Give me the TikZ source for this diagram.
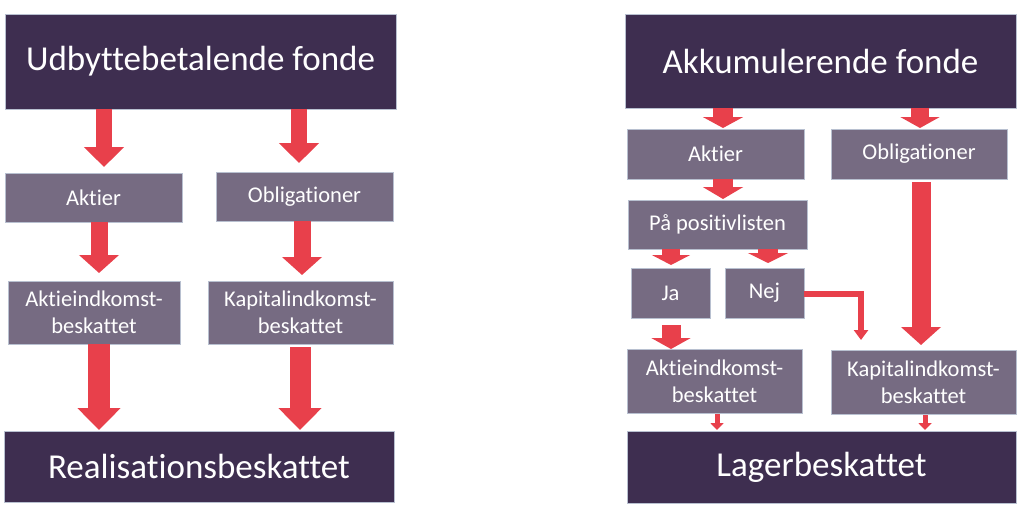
\documentclass[tikz,border=0pt]{standalone}
\usepackage{fontspec}
\setmainfont{Carlito}[Ligatures={NoCommon}]
\usetikzlibrary{arrows.meta,calc}
\definecolor{darkbox}{HTML}{3E2E50}
\definecolor{midbox}{HTML}{766B82}
\definecolor{arrowred}{HTML}{E8404B}
\definecolor{edgec}{HTML}{B8C0D0}
\tikzset{
  basebox/.style={inner sep=0pt, outer sep=0pt, align=center, text=white, draw=edgec, line width=0.6pt},
  titlebox/.style={basebox, fill=darkbox, font=\fontsize{35}{40}\selectfont},
  itembox/.style={basebox, fill=midbox, font=\fontsize{22.5}{27}\selectfont},
  redarrow/.style={draw=arrowred, line cap=butt},
}
% name, x1, y1, x2, y2, style, text
\newcommand\mkbox[7]{\node[#6, minimum width={(#4-#2)*1pt}, minimum height={(#5-#3)*1pt}] (#1) at ({(#2+#4)/2},{(#3+#5)/2}) {#7};}
% from, to, x, shaft, headwidth, headlength, startgap, endgap
\newcommand\blockarrow[8]{\draw[redarrow, line width=#4pt, -{Triangle[width=#5pt,length=#6pt]}] let \p1=(#1.south), \p2=(#2.north) in (#3pt,\y1-#7pt) -- (#3pt,\y2+#8pt);}
\begin{document}
\begin{tikzpicture}[x=1pt,y=-1pt]
\useasboundingbox (0,0) rectangle (1024,509);
% left panel
\mkbox{ltop}{5}{14}{396}{109}{titlebox}{Udbyttebetalende fonde}
\mkbox{lakt}{5}{173}{182}{222}{itembox}{Aktier}
\mkbox{lobl}{216}{172}{393}{221}{itembox}{Obligationer}
\mkbox{laik}{8}{281}{180}{344}{itembox}{Aktieindkomst-\\beskattet}
\mkbox{lkik}{208}{281}{393}{344}{itembox}{Kapitalindkomst-\\beskattet}
\mkbox{lbot}{4}{431}{394}{502}{titlebox}{Realisationsbeskattet}
\blockarrow{ltop}{lakt}{104}{16}{39}{20}{0}{6}
\blockarrow{ltop}{lobl}{299}{16}{39}{20}{0}{9}
\blockarrow{lakt}{laik}{99}{17}{39}{18}{0}{8}
\blockarrow{lobl}{lkik}{302}{17}{39}{18}{0}{6}
\blockarrow{laik}{lbot}{99}{22}{42}{22}{0}{1}
\blockarrow{lkik}{lbot}{300}{21}{42}{22}{3}{1}
% right panel
\mkbox{rtop}{625}{14}{1016}{108}{titlebox}{Akkumulerende fonde}
\mkbox{rakt}{627}{129}{804}{179}{itembox}{Aktier}
\mkbox{robl}{831}{129}{1007}{179}{itembox}{Obligationer}
\mkbox{rpos}{628}{200}{807}{249}{itembox}{På positivlisten}
\mkbox{rja}{631}{268}{710}{318}{itembox}{Ja}
\mkbox{rnej}{725}{268}{804}{318}{itembox}{Nej}
\mkbox{raik}{627}{349}{802}{413}{itembox}{Aktieindkomst-\\beskattet}
\mkbox{rkik}{831}{350}{1016}{414}{itembox}{Kapitalindkomst-\\beskattet}
\mkbox{rbot}{627}{431}{1016}{503}{titlebox}{Lagerbeskattet}
\blockarrow{rtop}{rakt}{723}{20}{40}{11}{0}{1}
\blockarrow{rtop}{robl}{920}{18}{39}{11}{0}{1}
\blockarrow{rakt}{rpos}{723}{20}{40}{12}{0}{1}
\blockarrow{rpos}{rja}{671}{18}{38}{10}{0}{3}
\blockarrow{rpos}{rnej}{768}{20}{40}{10}{0}{5}
\blockarrow{rja}{raik}{671}{19}{39}{11}{7}{0}
\blockarrow{robl}{rkik}{921}{19}{39}{18}{3}{5}
\blockarrow{raik}{rbot}{717}{5}{13}{7}{1}{1}
\blockarrow{rkik}{rbot}{925}{5}{13}{7}{1}{1}
\draw[redarrow, line width=6pt, line join=miter, -{Triangle[width=14pt,length=10pt]}]
  let \p1=(rnej.east), \p2=(rkik.north) in (\x1,-294pt) -- (861pt,-294pt) -- (861pt,\y2+10pt);
\end{tikzpicture}
\end{document}
